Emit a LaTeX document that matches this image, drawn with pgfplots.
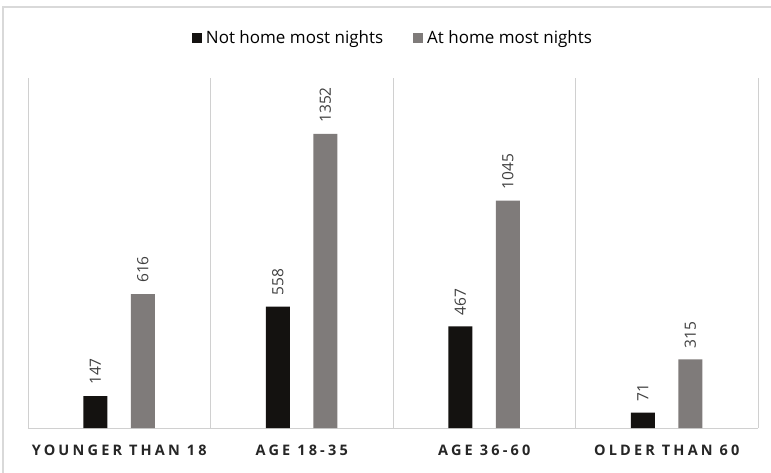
\documentclass[border=0pt]{standalone}
\usepackage{pgfplots}
\pgfplotsset{compat=1.18}
\usepackage{fontspec}
\setmainfont{Open Sans}
\newfontfamily\catfont[LetterSpace=22]{Open Sans}
\definecolor{darkbar}{HTML}{141210}
\definecolor{graybar}{HTML}{7F7B7A}
\definecolor{sepgray}{HTML}{D0D0D0}
\definecolor{framegray}{HTML}{D9D9D9}
\definecolor{labgray}{HTML}{404040}
\begin{document}
\begin{tikzpicture}[x=1pt,y=1pt]
\useasboundingbox (0,0) rectangle (771,472);
\draw[framegray, line width=1.2pt] (3,-2) rectangle (773,465);
\begin{axis}[
  at={(28pt,44pt)}, anchor=south west,
  scale only axis, width=730pt, height=350pt,
  xmin=-0.5, xmax=3.5, ymin=0, ymax=1609,
  axis y line=none,
  axis x line*=bottom,
  x axis line style={sepgray, line width=0.8pt, -},
  xtick={0,1,2,3},
  xticklabels={YOUNGER THAN 18, AGE 18-35, AGE 36-60, OLDER THAN 60},
  minor xtick={-0.5,0.5,1.5,2.5,3.5},
  xminorgrids=true,
  minor grid style={sepgray, line width=0.8pt},
  major tick length=0pt, minor tick length=0pt,
  xticklabel style={font=\catfont\bfseries\fontsize{14.5}{16}\selectfont, text=black!85, yshift=-13pt},
  /pgf/number format/.cd, 1000 sep={}, assume math mode=true, /pgfplots/.cd,
  ybar, bar width=24pt,
  nodes near coords,
  every node near coord/.append style={rotate=90, anchor=west, inner xsep=11pt, font=\fontsize{15.5}{17}\selectfont, text=labgray},
  legend columns=2,
  legend style={at={(0.5,1.1143)}, anchor=center, draw=none, fill=none, font=\fontsize{17}{19}\selectfont,
    /tikz/every odd column/.append style={column sep=2pt},
    /tikz/every even column/.append style={column sep=28pt}},
  legend image code/.code={\fill[#1] (0pt,-5pt) rectangle (10pt,5pt);},
]
\addplot[fill=darkbar, draw=none, bar shift=-24pt] coordinates {(0,147) (1,558) (2,467) (3,71)};
\addplot[fill=graybar, draw=none, bar shift=23.5pt] coordinates {(0,616) (1,1352) (2,1045) (3,315)};
\legend{Not home most nights, At home most nights}
\end{axis}
\end{tikzpicture}
\end{document}
